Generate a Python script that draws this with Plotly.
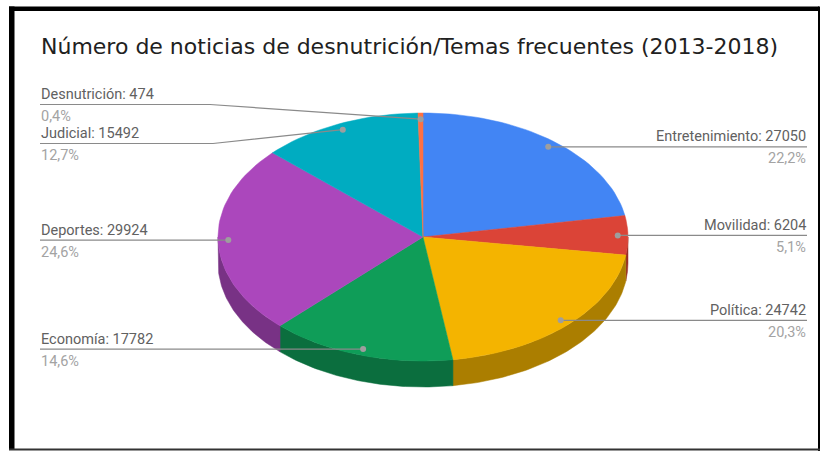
import numpy as np
import plotly.graph_objects as go

# ---------------- data ----------------
categories = ["Entretenimiento", "Movilidad", "Política", "Economía", "Deportes", "Judicial", "Desnutrición"]
values = [27050, 6204, 24742, 17782, 29924, 15492, 474]
title_text = "Número de noticias de desnutrición/Temas frecuentes (2013-2018)"

# ---------------- style ----------------
top_colors = ["#4285F4", "#DB4437", "#F4B400", "#0F9D58", "#AB47BC", "#00ACC1", "#FF7043"]
side_colors = ["#2E5DAB", "#992F27", "#AB7E00", "#0B6E3E", "#783285", "#007889", "#B34E2F"]
label_side = ["right", "right", "right", "left", "left", "left", "left"]
W, H = 820, 451
CX, CY, RX, RY, DEPTH = 423, 237, 205, 124, 26
DOT_R = 0.95
LEFT_X, RIGHT_X = 40, 807
# label line y overrides for crowded upper-left labels (None -> use dot y)
line_y_override = [None, None, None, None, None, 143.5, 104.5]
bend_x = [None, None, None, None, None, 213, 210]
FONT = "Roboto"

total = float(sum(values))
fracs = np.array(values) / total
ends = np.cumsum(fracs) * 2 * np.pi
starts = ends - fracs * 2 * np.pi


def ell(theta, dy=0.0, r=1.0):
    return CX + r * RX * np.sin(theta), CY - r * RY * np.cos(theta) + dy


fig = go.Figure()

# side faces (front half only)
for i in range(len(values)):
    s0 = max(starts[i], np.pi / 2)
    s1 = min(ends[i], 3 * np.pi / 2)
    if s0 < s1:
        t = np.linspace(s0, s1, 80)
        xt, yt = ell(t)
        xb, yb = ell(t[::-1], DEPTH)
        fig.add_trace(go.Scatter(
            x=np.concatenate([xt, xb, xt[:1]]), y=np.concatenate([yt, yb, yt[:1]]),
            fill="toself", fillcolor=side_colors[i], mode="lines",
            line=dict(color=side_colors[i], width=0.5), hoverinfo="skip", showlegend=False))

# top faces
for i in range(len(values)):
    t = np.linspace(starts[i], ends[i], max(4, int(200 * fracs[i])))
    xa, ya = ell(t)
    fig.add_trace(go.Scatter(
        x=np.concatenate([[CX], xa, [CX]]), y=np.concatenate([[CY], ya, [CY]]),
        fill="toself", fillcolor=top_colors[i], mode="lines",
        line=dict(color=top_colors[i], width=0.5), hoverinfo="skip", showlegend=False))

annotations = []
shapes = []
for i in range(len(values)):
    mid = (starts[i] + ends[i]) / 2
    dx, dy = ell(mid, r=DOT_R)
    ly = line_y_override[i] if line_y_override[i] is not None else dy
    if label_side[i] == "right":
        xs, ys = [dx, RIGHT_X], [dy, dy]
        tx, anchor = RIGHT_X, "right"
    else:
        if bend_x[i] is not None:
            xs, ys = [LEFT_X, bend_x[i], dx], [ly, ly, dy]
        else:
            xs, ys = [LEFT_X, dx], [dy, dy]
        tx, anchor = LEFT_X, "left"
    fig.add_trace(go.Scatter(x=xs, y=ys, mode="lines", line=dict(color="#8a8a8a", width=1.2),
                             hoverinfo="skip", showlegend=False))
    fig.add_trace(go.Scatter(x=[dx], y=[dy], mode="markers", marker=dict(color="#9e9e9e", size=6),
                             hoverinfo="skip", showlegend=False))
    pct = f"{fracs[i] * 100:.1f}%".replace(".", ",")
    annotations.append(dict(x=tx, y=ly - 0.5, xref="x", yref="y", text=f"{categories[i]}: {values[i]}",
                            showarrow=False, xanchor=anchor, yanchor="bottom", borderpad=0,
                            font=dict(family=FONT, size=14.5, color="#616161")))
    annotations.append(dict(x=tx, y=ly + 2.5, xref="x", yref="y", text=pct,
                            showarrow=False, xanchor=anchor, yanchor="top", borderpad=0,
                            font=dict(family=FONT, size=14.5, color="#a3a3a3")))

annotations.append(dict(x=39, y=46, xref="x", yref="y", text=title_text, showarrow=False,
                        xanchor="left", yanchor="middle",
                        font=dict(family="DejaVu Sans", size=22, color="#212121")))

# frame
shapes += [
    dict(type="rect", xref="x", yref="y", x0=9, x1=819, y0=6.5, y1=11, fillcolor="black", line_width=0, layer="above"),
    dict(type="rect", xref="x", yref="y", x0=9, x1=14.5, y0=6.5, y1=449, fillcolor="black", line_width=0, layer="above"),
    dict(type="rect", xref="x", yref="y", x0=818, x1=820, y0=6.5, y1=451, fillcolor="black", line_width=0, layer="above"),
    dict(type="rect", xref="x", yref="y", x0=9, x1=820, y0=448.5, y1=450.5, fillcolor="#333333", line_width=0, layer="above"),
]

fig.update_layout(
    width=W, height=H, autosize=False,
    margin=dict(l=0, r=0, t=0, b=0, pad=0),
    paper_bgcolor="white", plot_bgcolor="white",
    xaxis=dict(range=[0, W], visible=False, fixedrange=True),
    yaxis=dict(range=[H, 0], visible=False, fixedrange=True),
    annotations=annotations, shapes=shapes, showlegend=False,
)

fig.write_html("out.html", config={"displayModeBar": False},
               post_script="document.body.style.margin='0';document.body.style.overflow='hidden';")
